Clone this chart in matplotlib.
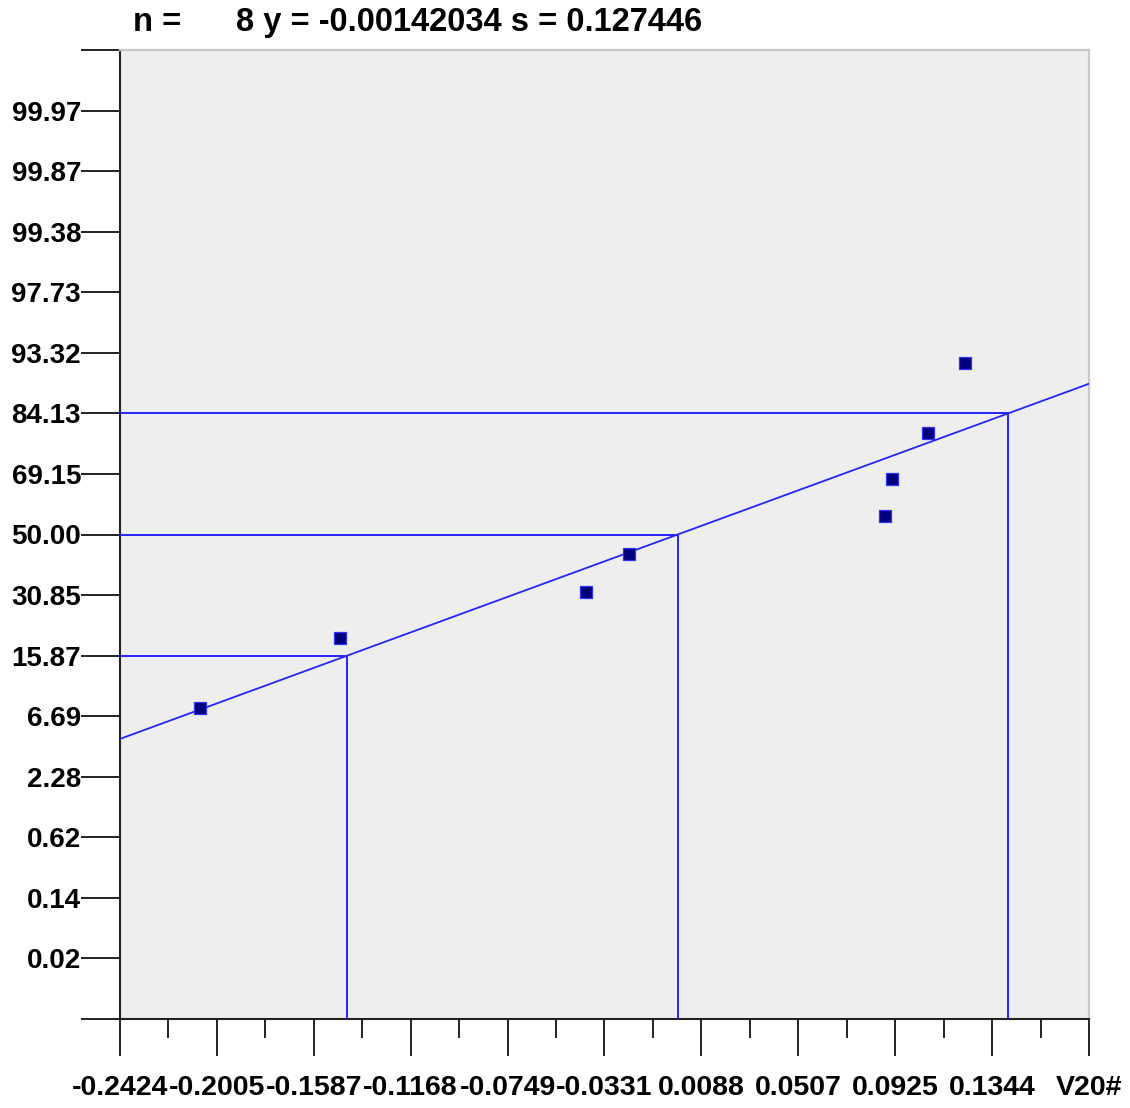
import numpy as np
import matplotlib
matplotlib.use("Agg")
import matplotlib.pyplot as plt

# Normal probability plot (values on x, sigma units on y)
x_ticks = [-0.2424, -0.2005, -0.1587, -0.1168, -0.0749, -0.0331, 0.0088, 0.0507, 0.0925, 0.1344, 0.1763]
x_tick_labels = ["-0.2424", "-0.2005", "-0.1587", "-0.1168", "-0.0749", "-0.0331",
                 "0.0088", "0.0507", "0.0925", "0.1344", "V20#"]
y_ticks = [-3.5, -3.0, -2.5, -2.0, -1.5, -1.0, -0.5, 0.0, 0.5, 1.0, 1.5, 2.0, 2.5, 3.0, 3.5]
y_tick_labels = ["0.02", "0.14", "0.62", "2.28", "6.69", "15.87", "30.85", "50.00",
                 "69.15", "84.13", "93.32", "97.73", "99.38", "99.87", "99.97"]

# sample values and their plotting positions (sigma units)
values = [-0.2078, -0.1473, -0.0409, -0.0223, 0.0880, 0.0911, 0.1066, 0.1226]
z_pos = [-1.429, -0.851, -0.471, -0.157, 0.149, 0.462, 0.842, 1.420]

# fitted line as drawn
line_mean = -0.00142034
line_sd = 0.1428
ref_z = [-1.0, 0.0, 1.0]

title = "n =      8 y = -0.00142034 s = 0.127446"

plt.rcParams['font.family'] = ['Liberation Sans', 'DejaVu Sans']
plt.rcParams['font.weight'] = 'bold'

fig = plt.figure(figsize=(11.30, 11.08), dpi=100)
W, H = 1130, 1108
ax = fig.add_axes([120 / W, 1 - 1019 / H, (1089 - 120) / W, (1019 - 50) / H])
ax.set_facecolor('#eeeeee')

xmin, xmax = x_ticks[0], x_ticks[-1]
ymin, ymax = -4.0, 4.0
ax.set_xlim(xmin, xmax)
ax.set_ylim(ymin, ymax)

blue = '#2424ff'
# fitted line across the full width
xs = np.array([xmin, xmax])
ax.plot(xs, (xs - line_mean) / line_sd, color=blue, lw=1.3, zorder=3)

# reference lines for -1s, mean, +1s
for z in ref_z:
    xv = line_mean + z * line_sd
    ax.plot([xmin, xv], [z, z], color=blue, lw=1.4, zorder=3)
    ax.plot([xv, xv], [z, ymin], color=blue, lw=1.4, zorder=3)

# data points
ax.plot(values, z_pos, linestyle='none', marker='s', markersize=8,
        markerfacecolor='#00007a', markeredgecolor='#3030ff', markeredgewidth=0.9, zorder=4)

# spines
for s in ['top', 'right']:
    ax.spines[s].set_color('#c8c8c8')
    ax.spines[s].set_linewidth(1.6)
for s in ['left', 'bottom']:
    ax.spines[s].set_color('#222222')
    ax.spines[s].set_linewidth(1.5)

# x ticks
ax.set_xticks(x_ticks)
ax.set_xticklabels(x_tick_labels)
minor = [(a + b) / 2 for a, b in zip(x_ticks[:-1], x_ticks[1:])]
ax.set_xticks(minor, minor=True)
ax.tick_params(axis='x', which='major', direction='out', length=26.5, width=1.4,
               color='#222222', labelsize=20.5, pad=14)
ax.tick_params(axis='x', which='minor', direction='out', length=13.5, width=1.4, color='#222222')

# y ticks: every half sigma, labels only inside
y_all = [ymin] + y_ticks + [ymax]
ax.set_yticks(y_all)
ax.set_yticklabels([""] + y_tick_labels + [""])
ax.tick_params(axis='y', which='major', direction='out', length=28, width=1.4,
               color='#222222', labelsize=20, pad=0)

fig.text(133 / W, 1 - 22 / H, title, ha='left', va='center', fontsize=23.5, fontweight='bold')

fig.savefig("out.png", dpi=100)
